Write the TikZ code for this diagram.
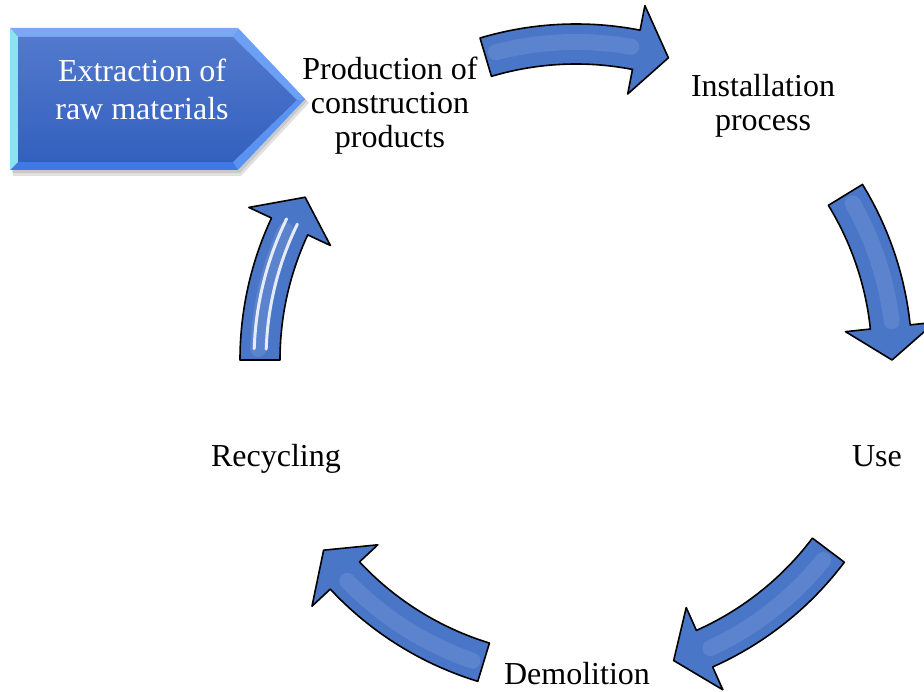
\documentclass[tikz,border=0pt]{standalone}
\usepackage{fontspec}
\setmainfont{Liberation Serif}
\usetikzlibrary{calc}
\definecolor{arrowblue}{HTML}{4A76C8}
\definecolor{facetop}{HTML}{5279CC}
\definecolor{facebot}{HTML}{3360BF}
\definecolor{bevtop}{HTML}{7AA8F3}
\definecolor{bevleft}{HTML}{8DE0F6}
\definecolor{bevur}{HTML}{6BA0F6}
\definecolor{bevlr}{HTML}{5A93F1}
\definecolor{bevbot}{HTML}{3F79E6}

% curved block arrow on the cycle circle: #1 = tail angle, #2 = tip angle
\newcommand\cyclearrow[2]{%
  \pgfmathsetmacro\hb{#2+6}%
  \filldraw[cyc] (#1:336pt) arc[start angle=#1, end angle=\hb, radius=336pt]
    -- (\hb:361pt) -- (#2:316pt) -- (\hb:271pt) -- (\hb:296pt)
    arc[start angle=\hb, end angle=#1, radius=296pt] -- cycle;
  \draw[gloss] (#1-2:318pt) arc[start angle=#1-2, end angle=\hb+1, radius=318pt];
}

\begin{document}
\begin{tikzpicture}[x=1pt,y=1pt,
  lbl/.style={font=\fontsize{32}{34}\selectfont, align=center, inner sep=0pt, text=black},
  ptext/.style={font=\fontsize{32}{38}\selectfont, align=center, inner sep=0pt, text=white},
  cyc/.style={draw=black, line width=1.6pt, line join=round, fill=arrowblue},
  gloss/.style={draw=white, line cap=round, opacity=0.1, line width=16pt},
  streak/.style={draw=white, line cap=round, opacity=0.85, line width=3pt},
]
\useasboundingbox (0,0) rectangle (924,691);
\clip (0,0) rectangle (924,691);

% bevelled pentagon with its shadow
\fill[black, opacity=0.12] (13,659) -- (241,659) -- (309,588) -- (241,515) -- (13,515) -- cycle;
\fill[black, opacity=0.10] (12,661) -- (240,661) -- (307,590) -- (240,518) -- (12,518) -- cycle;
\fill[bevtop] (10,663) -- (238,663) -- (233,654) -- (18,654) -- cycle;
\fill[bevur] (238,663) -- (305,592) -- (297,591) -- (233,654) -- cycle;
\fill[bevlr] (305,592) -- (238,521) -- (233,529) -- (297,591) -- cycle;
\fill[bevbot] (238,521) -- (10,521) -- (18,529) -- (233,529) -- cycle;
\fill[bevleft] (10,521) -- (10,663) -- (18,654) -- (18,529) -- cycle;
\shade[top color=facetop, bottom color=facebot] (18,654) -- (233,654) -- (297,591) -- (233,529) -- (18,529) -- cycle;
\node[ptext] (extract) at (142,602) {Extraction of\\raw materials};

% stage labels
\node[lbl] (prod) at (390,585) {Production of\\construction\\products};
\node[lbl] (inst) at (763,585) {Installation\\process};
\node[lbl, anchor=base] (use) at (877,224) {Use};
\node[lbl, anchor=base] (demo) at (577,6) {Demolition};
\node[lbl, anchor=base] (recy) at (276,224) {Recycling};

% cycle arrows
\begin{scope}[shift={(576,331)}]
  \cyclearrow{106.6}{73}
  \cyclearrow{31.5}{0}
  \cyclearrow{323}{288}
  \cyclearrow{253}{217}
  \cyclearrow{180}{149}
  \draw[streak] (178:310pt) arc[start angle=178, end angle=154, radius=310pt];
  \draw[streak] (178:322pt) arc[start angle=178, end angle=154, radius=322pt];
\end{scope}
\end{tikzpicture}
\end{document}
